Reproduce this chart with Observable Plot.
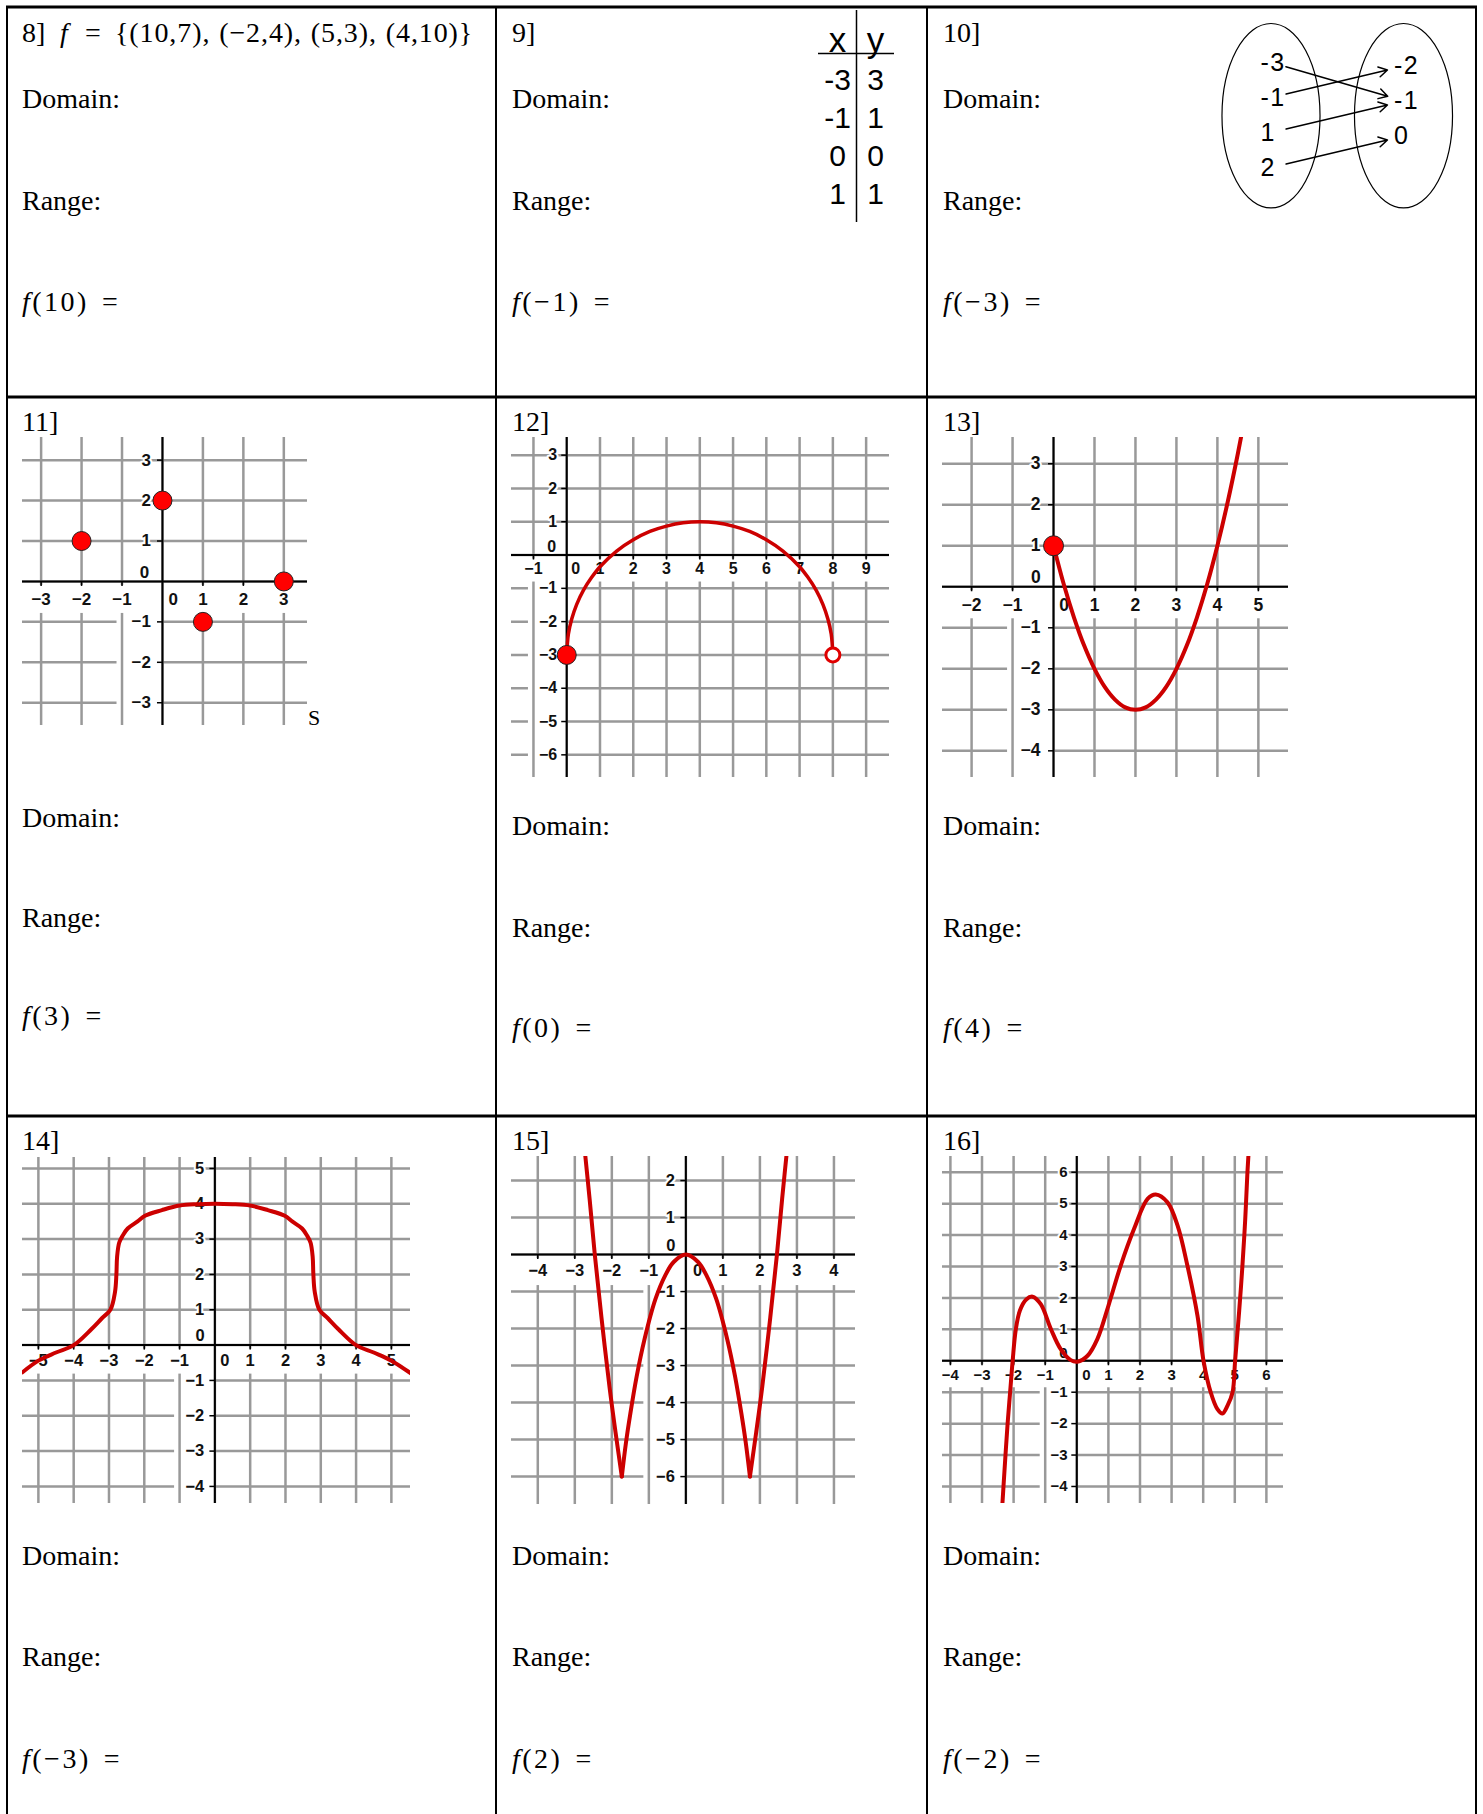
<!DOCTYPE html>
<html>
<head>
<meta charset="utf-8">
<script src="https://cdn.jsdelivr.net/npm/d3@7"></script>
<script src="https://cdn.jsdelivr.net/npm/@observablehq/plot@0.6"></script>
<style>
html, body { margin:0; padding:0; background:#fff; overflow:hidden; }
#page { position:relative; width:1483px; height:1814px; background:#fff; overflow:hidden; }
.abs { position:absolute; }
</style>
</head>
<body>
<div id="page"></div>
<script>
// ================= DATA =================
// Problem 8
const set8 = "{(10,7), (\u22122,4), (5,3), (4,10)}";
// Problem 9 table
const tableX = [-3, -1, 0, 1];
const tableY = [3, 1, 0, 1];
// Problem 10 mapping
const mapInputs = [-3, -1, 1, 2];
const mapOutputs = [-2, -1, 0];
const mapFrom = [-3, -1, 1, 2];
const mapTo = [-1, -2, -1, 0];
// Problem 11 points
const pts11x = [-2, 0, 1, 3];
const pts11y = [1, 2, -1, 0];
// Problem 12 arc with endpoints
const arc12x = [0, 0.05, 0.15, 0.3, 0.5, 0.75, 1, 1.5, 2, 2.5, 3, 3.5, 4, 4.5, 5, 5.5, 6, 6.5, 7, 7.25, 7.5, 7.7, 7.85, 7.95, 8];
const arc12y = [-3, -2.37, -1.92, -1.48, -1.06, -0.67, -0.35, 0.12, 0.46, 0.71, 0.87, 0.97, 1, 0.97, 0.87, 0.71, 0.46, 0.12, -0.35, -0.67, -1.06, -1.48, -1.92, -2.37, -3];
const end12x = [0, 8];
const end12y = [-3, -3];
const end12closed = [true, false];
// Problem 13 parabola starting at a closed point
const par13x = [0, 0.25, 0.5, 0.75, 1, 1.25, 1.5, 1.75, 2, 2.25, 2.5, 2.75, 3, 3.25, 3.5, 3.75, 4, 4.25, 4.5, 4.75];
const par13y = [1, 0.06, -0.75, -1.44, -2, -2.44, -2.75, -2.94, -3, -2.94, -2.75, -2.44, -2, -1.44, -0.75, 0.06, 1, 2.06, 3.25, 4.56];
const start13x = [0];
const start13y = [1];
// Problem 14
const cur14x = [-5.45, -5, -4.5, -4, -3.5, -3.2, -2.96, -2.83, -2.79, -2.77, -2.71, -2.61, -2.47, -2.19, -1.98, -1.5, -1, -0.5, 0, 0.5, 1, 1.5, 1.98, 2.19, 2.47, 2.61, 2.71, 2.77, 2.79, 2.83, 2.96, 3.2, 3.5, 4, 4.5, 5, 5.55];
const cur14y = [-0.77, -0.44, -0.21, 0, 0.45, 0.76, 1.0, 1.5, 2.0, 2.5, 2.9, 3.1, 3.3, 3.5, 3.66, 3.82, 3.95, 3.99, 4, 3.99, 3.95, 3.82, 3.66, 3.5, 3.3, 3.1, 2.9, 2.5, 2.0, 1.5, 1.0, 0.76, 0.45, 0, -0.21, -0.44, -0.8];
// Problem 15 (three pieces between the cusps)
const cur15x = [-2.74, -2.6, -2.46, -2.28, -2.06, -1.9, -1.73, -1.73, -1.62, -1.5, -1.33, -1.12, -0.82, -0.55, -0.33, 0, 0.33, 0.55, 0.82, 1.12, 1.33, 1.5, 1.62, 1.73, 1.73, 1.9, 2.06, 2.28, 2.46, 2.6, 2.76];
const cur15y = [2.9, 1.5, 0, -1.7, -3.6, -4.8, -6, -6, -5.1, -4.3, -3.3, -2.3, -1.2, -0.55, -0.2, 0, -0.2, -0.55, -1.2, -2.3, -3.3, -4.3, -5.1, -6, -6, -4.8, -3.6, -1.7, 0, 1.5, 3.1];
const cur15piece = [0, 0, 0, 0, 0, 0, 0, 1, 1, 1, 1, 1, 1, 1, 1, 1, 1, 1, 1, 1, 1, 1, 1, 1, 2, 2, 2, 2, 2, 2, 2];
// Problem 16
const cur16x = [-2.37, -2.32, -2.19, -2.11, -2.03, -1.93, -1.8, -1.6, -1.4, -1.14, -0.82, -0.51, -0.19, 0.02, 0.34, 0.65, 1.0, 1.39, 1.81, 2.24, 2.5, 2.87, 3.19, 3.5, 3.82, 4.01, 4.24, 4.45, 4.61, 4.77, 4.93, 5.01, 5.14, 5.24, 5.33, 5.4, 5.48];
const cur16y = [-4.8, -4, -2, -1, 0, 1, 1.6, 1.95, 2.04, 1.8, 1.01, 0.37, 0.02, -0.03, 0.16, 0.69, 1.75, 3.03, 4.19, 5.15, 5.29, 5.04, 4.3, 3.03, 1.43, 0, -1.01, -1.54, -1.68, -1.43, -1, 0, 1.6, 3.0, 4.5, 6.0, 7.3];

// tick values per grid
const ticks11x = [-3, -2, -1, 0, 1, 2, 3], ticks11y = [-3, -2, -1, 0, 1, 2, 3];
const ticks12x = [-1, 0, 1, 2, 3, 4, 5, 6, 7, 8, 9], ticks12y = [-6, -5, -4, -3, -2, -1, 0, 1, 2, 3];
const ticks13x = [-2, -1, 0, 1, 2, 3, 4, 5], ticks13y = [-4, -3, -2, -1, 0, 1, 2, 3];
const ticks14x = [-5, -4, -3, -2, -1, 0, 1, 2, 3, 4, 5], ticks14y = [-4, -3, -2, -1, 0, 1, 2, 3, 4, 5];
const ticks15x = [-4, -3, -2, -1, 0, 1, 2, 3, 4], ticks15y = [-6, -5, -4, -3, -2, -1, 0, 1, 2];
const ticks16x = [-4, -3, -2, -1, 0, 1, 2, 3, 4, 5, 6], ticks16y = [-4, -3, -2, -1, 0, 1, 2, 3, 4, 5, 6];

// ================= STYLE =================
const RED = "#cc0000", DOT = "#ff0000", GRID = "#999999";
const SANS = "'Liberation Sans', Arial, sans-serif";
const SERIF = "'Liberation Serif', 'Times New Roman', serif";
const fmt = d => d < 0 ? "\u2212" + (-d) : String(d);
const hy = d => String(d);
const zip = (xs, ys, extra) => xs.map((x, i) => ({x, y: ys[i], ...(extra ? {k: extra[i]} : {})}));

const page = document.getElementById("page");
function place(el, left, top, w, h) {
  const d = document.createElement("div");
  d.className = "abs";
  d.style.left = left + "px"; d.style.top = top + "px";
  d.style.width = w + "px"; d.style.height = h + "px";
  d.appendChild(el);
  page.appendChild(d);
}

// ================= PAGE: table lines + text =================
const NS = "http://www.w3.org/2000/svg";
const hLines = [7, 397, 1116];
const vLines = [7, 496, 927, 1476];
const cells = [
  {n: "8]",  x: 22,  b: [42, 108, 210, 311], arg: "10"},
  {n: "9]",  x: 512, b: [42, 108, 210, 311], arg: "\u22121"},
  {n: "10]", x: 943, b: [42, 108, 210, 311], arg: "\u22123"},
  {n: "11]", x: 22,  b: [431, 827, 927, 1025], arg: "3"},
  {n: "12]", x: 512, b: [431, 835, 937, 1037], arg: "0"},
  {n: "13]", x: 943, b: [431, 835, 937, 1037], arg: "4"},
  {n: "14]", x: 22,  b: [1150, 1565, 1666, 1768], arg: "\u22123"},
  {n: "15]", x: 512, b: [1150, 1565, 1666, 1768], arg: "2"},
  {n: "16]", x: 943, b: [1150, 1565, 1666, 1768], arg: "\u22122"}
];
let s = `<svg xmlns="${NS}" width="1483" height="1814" style="position:absolute;left:0;top:0" font-family="${SERIF}" font-size="28" fill="black">`;
for (const y of hLines) s += `<line x1="6" x2="1477" y1="${y}" y2="${y}" stroke="black" stroke-width="3"/>`;
for (const x of vLines) s += `<line x1="${x}" x2="${x}" y1="6" y2="1814" stroke="black" stroke-width="2"/>`;
for (const c of cells) {
  s += `<text x="${c.x}" y="${c.b[0]}">${c.n}</text>`;
  s += `<text x="${c.x}" y="${c.b[1]}">Domain:</text>`;
  s += `<text x="${c.x}" y="${c.b[2]}">Range:</text>`;
  s += `<text x="${c.x}" y="${c.b[3]}" letter-spacing="2.5"><tspan font-style="italic">f</tspan>(${c.arg})<tspan dx="13">=</tspan></text>`;
}
s += `<text x="60" y="42"><tspan font-style="italic">f</tspan><tspan x="85">=</tspan><tspan x="115" letter-spacing="0.9" word-spacing="1">${set8}</tspan></text>`;
s += `<text x="308" y="725" font-size="22">S</text>`;
s += `</svg>`;
page.insertAdjacentHTML("beforeend", s);

// ================= GRAPH BUILDER =================
function graph(g) {
  const W = g.right - g.left, H = g.bottom - g.top;
  const kx = W / (g.xd[1] - g.xd[0]);
  const ky = H / (g.yd[1] - g.yd[0]);
  const xs = g.xt.filter(v => v !== 0), ys = g.yt.filter(v => v !== 0);
  const lab = {fontFamily: SANS, fontWeight: "bold", fontSize: g.fs, fill: "#111", stroke: "white", strokeWidth: 4};
  const marks = [
    Plot.ruleY(g.yt, {stroke: GRID, strokeWidth: 2.5}),
    Plot.rect(ys.filter(v => v < 0), {x1: -1 - 5 / kx, x2: 0, y1: d => d - 0.3, y2: d => d + 0.3, fill: "white"}),
    Plot.ruleX(g.xt, {stroke: GRID, strokeWidth: 2.5}),
    Plot.rect(xs, {x1: d => d - 0.35, x2: d => d + 0.35, y1: -4 / ky, y2: -g.band / ky, fill: "white"}),
    Plot.text(xs, {x: d => d, y: 0, dy: g.xoff, text: fmt, ...lab}),
    Plot.text(ys, {x: 0, y: d => d, dx: -g.yoff, textAnchor: "end", text: fmt, ...lab}),
    Plot.text([0], {x: 0, y: 0, dx: g.ul[0], dy: g.ul[1], text: fmt, ...lab}),
    Plot.text([0], {x: 0, y: 0, dx: g.lr[0], dy: g.lr[1], text: fmt, ...lab}),
    Plot.ruleY([0], {stroke: "black", strokeWidth: 2}),
    Plot.ruleX([0], {stroke: "black", strokeWidth: 2}),
    Plot.ruleX(xs, {y1: 0, y2: -5 / ky, stroke: "black", strokeWidth: 1.5}),
    Plot.ruleY(ys, {x1: 0, x2: -5 / kx, stroke: "black", strokeWidth: 1.5}),
    ...g.marks
  ];
  const svg = Plot.plot({
    width: W, height: H, margin: 0,
    x: {domain: g.xd, axis: null}, y: {domain: g.yd, axis: null},
    style: {overflow: "hidden", background: "white", maxWidth: "none"},
    marks
  });
  place(svg, g.left, g.top, W, H);
}

const dotStyle = {fill: DOT, stroke: "#222", strokeWidth: 1};

graph({left: 21.7, top: 436.7, right: 307.3, bottom: 725, xd: [-3.46, 3.60], yd: [-3.57, 3.56],
  xt: ticks11x, yt: ticks11y, fs: 17, xoff: 18, yoff: 11.5, ul: [-18, -9], lr: [10.7, 18], band: 32,
  marks: [Plot.dot(zip(pts11x, pts11y), {x: "x", y: "y", r: 9.5, ...dotStyle})]});

graph({left: 510.7, top: 436.7, right: 889.3, bottom: 776.7, xd: [-1.66, 9.72], yd: [-6.68, 3.53],
  xt: ticks12x, yt: ticks12y, fs: 16, xoff: 14, yoff: 9.5, ul: [-15, -7.7], lr: [9, 14], band: 27,
  marks: [
    Plot.line(zip(arc12x, arc12y), {x: "x", y: "y", stroke: RED, strokeWidth: 3.5, curve: "catmull-rom"}),
    Plot.dot(zip(end12x, end12y, end12closed).filter(d => d.k), {x: "x", y: "y", r: 9.5, ...dotStyle}),
    Plot.dot(zip(end12x, end12y, end12closed).filter(d => !d.k), {x: "x", y: "y", r: 7, fill: "white", stroke: "#e00000", strokeWidth: 3})
  ]});

graph({left: 941.7, top: 436.7, right: 1288.3, bottom: 776.7, xd: [-2.71, 5.75], yd: [-4.65, 3.64],
  xt: ticks13x, yt: ticks13y, fs: 17.5, xoff: 18.3, yoff: 13, ul: [-17.7, -9.3], lr: [10.7, 18.3], band: 32,
  marks: [
    Plot.line(zip(par13x, par13y), {x: "x", y: "y", stroke: RED, strokeWidth: 4, curve: "catmull-rom"}),
    Plot.dot(zip(start13x, start13y), {x: "x", y: "y", r: 10, ...dotStyle})
  ]});

graph({left: 21.7, top: 1156.7, right: 410, bottom: 1503.3, xd: [-5.45, 5.55], yd: [-4.5, 5.31],
  xt: ticks14x, yt: ticks14y, fs: 16.5, xoff: 15.7, yoff: 10.7, ul: [-14.7, -9.3], lr: [10, 15.7], band: 29,
  marks: [Plot.line(zip(cur14x, cur14y), {x: "x", y: "y", stroke: RED, strokeWidth: 4, curve: "catmull-rom"})]});

graph({left: 510.7, top: 1155.7, right: 855, bottom: 1504.3, xd: [-4.71, 4.59], yd: [-6.77, 2.65],
  xt: ticks15x, yt: ticks15y, fs: 16.5, xoff: 16.3, yoff: 11, ul: [-15, -8.7], lr: [11.7, 16.3], band: 31,
  marks: [Plot.line(zip(cur15x, cur15y, cur15piece), {x: "x", y: "y", z: "k", stroke: RED, strokeWidth: 4, curve: "catmull-rom"})]});

graph({left: 941.7, top: 1155.7, right: 1283.3, bottom: 1503.3, xd: [-4.25, 6.56], yd: [-4.56, 6.5],
  xt: ticks16x, yt: ticks16y, fs: 15, xoff: 14.3, yoff: 9.3, ul: [-13.3, -7.7], lr: [9.7, 14.3], band: 27,
  marks: [Plot.line(zip(cur16x, cur16y), {x: "x", y: "y", stroke: RED, strokeWidth: 4, curve: "catmull-rom"})]});

// ================= Problem 9: x|y table =================
const tbl = Plot.plot({
  width: 76, height: 212, margin: 0,
  x: {domain: [0, 1], range: [19, 57], axis: null},
  y: {domain: [-1, 3], range: [32, 184], axis: null},
  style: {overflow: "visible", background: "transparent", maxWidth: "none"},
  marks: [
    Plot.text(["x", "y"], {x: (d, i) => i, y: -1, dy: -2, text: d => d, fontSize: 35, fontFamily: SANS, fill: "black"}),
    Plot.ruleY([-1], {dy: 11, stroke: "black", strokeWidth: 1.5}),
    Plot.ruleX([0.5], {stroke: "black", strokeWidth: 1.5}),
    Plot.text(tableX, {x: 0, y: (d, i) => i, text: hy, fontSize: 30, fontFamily: SANS, fill: "black"}),
    Plot.text(tableY, {x: 1, y: (d, i) => i, text: hy, fontSize: 30, fontFamily: SANS, fill: "black"})
  ]
});
place(tbl, 818, 10, 76, 212);

// ================= Problem 10: mapping diagram =================
const pairs = mapFrom.map((f, i) => ({from: f, to: mapTo[i]}));
const shift = 0.1;
const mapSvg = Plot.plot({
  width: 250, height: 205, margin: 0,
  x: {domain: [0, 1], range: [56, 188.5], axis: null},
  y: {domain: [0, 3], range: [47, 152], axis: null},
  style: {overflow: "visible", background: "transparent", maxWidth: "none", letterSpacing: "1.5px"},
  marks: [
    Plot.rect([0, 1], {x1: d => d - 0.37, x2: d => d + 0.37, y1: -1.1, y2: 4.17, rx: 49, ry: 92.5, fill: "none", stroke: "black", strokeWidth: 1.2}),
    Plot.text(mapInputs, {x: 0, y: (d, i) => i, dx: -11, textAnchor: "start", text: hy, fontSize: 25, fontFamily: SANS, fill: "black"}),
    Plot.text(mapOutputs, {x: 1, y: (d, i) => i + shift, dx: -10, textAnchor: "start", text: hy, fontSize: 25, fontFamily: SANS, fill: "black"}),
    Plot.arrow(pairs, {x1: 0, y1: d => mapInputs.indexOf(d.from), x2: 1, y2: d => mapOutputs.indexOf(d.to) + shift,
      insetStart: 15, insetEnd: 17, headLength: 10, stroke: "black", strokeWidth: 1.5})
  ]
});
place(mapSvg, 1215, 15, 250, 205);
</script>
</body>
</html>
